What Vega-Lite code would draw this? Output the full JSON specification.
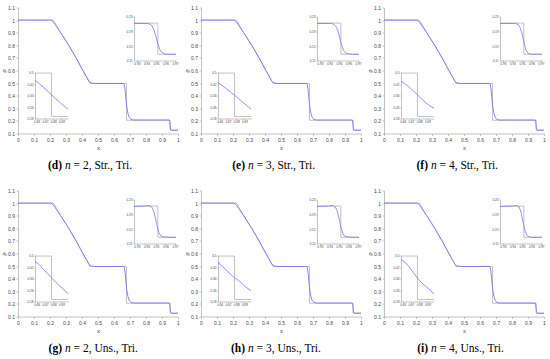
{
  "$schema": "https://vega.github.io/schema/vega-lite/v6.json",
  "padding": {"left": 0, "top": 4.5, "right": 0, "bottom": 0},
  "datasets": {
    "exact": [
      {"k": "m", "x": 0, "y": 1}, {"k": "m", "x": 0.222, "y": 1}, {"k": "m", "x": 0.267, "y": 0.9}, {"k": "m", "x": 0.317, "y": 0.8},
      {"k": "m", "x": 0.363, "y": 0.7}, {"k": "m", "x": 0.407, "y": 0.6}, {"k": "m", "x": 0.45, "y": 0.497}, {"k": "m", "x": 0.678, "y": 0.497},
      {"k": "m", "x": 0.678, "y": 0.205}, {"k": "m", "x": 0.951, "y": 0.205}, {"k": "m", "x": 0.951, "y": 0.126}, {"k": "m", "x": 1, "y": 0.126},
      {"k": "l", "x": 0.658, "y": 0.496}, {"k": "l", "x": 0.678, "y": 0.496}, {"k": "l", "x": 0.678, "y": 0.194}, {"k": "l", "x": 0.698, "y": 0.194},
      {"k": "u", "x": 0.927, "y": 0.212}, {"k": "u", "x": 0.952, "y": 0.212}, {"k": "u", "x": 0.952, "y": 0.127}, {"k": "u", "x": 0.971, "y": 0.127}
    ],
    "mainnum": [
      {"x": 0, "y": 1}, {"x": 0.205, "y": 1}, {"x": 0.215, "y": 0.994}, {"x": 0.225, "y": 0.978}, {"x": 0.24, "y": 0.95},
      {"x": 0.267, "y": 0.9}, {"x": 0.317, "y": 0.8}, {"x": 0.363, "y": 0.7}, {"x": 0.405, "y": 0.6}, {"x": 0.43, "y": 0.545},
      {"x": 0.445, "y": 0.512}, {"x": 0.46, "y": 0.5}, {"x": 0.48, "y": 0.497}, {"x": 0.66, "y": 0.497}, {"x": 0.665, "y": 0.485},
      {"x": 0.67, "y": 0.44}, {"x": 0.675, "y": 0.37}, {"x": 0.68, "y": 0.31}, {"x": 0.687, "y": 0.26}, {"x": 0.695, "y": 0.228},
      {"x": 0.705, "y": 0.213}, {"x": 0.72, "y": 0.207}, {"x": 0.945, "y": 0.207}, {"x": 0.948, "y": 0.195}, {"x": 0.95, "y": 0.17},
      {"x": 0.952, "y": 0.145}, {"x": 0.955, "y": 0.13}, {"x": 0.96, "y": 0.126}, {"x": 1, "y": 0.126}
    ],
    "panels": [
      {"p": "d", "k": "c", "a": "(d)", "b": "n", "c": "= 2, Str., Tri."},
      {"p": "d", "k": "l", "x": 0.658, "y": 0.447}, {"p": "d", "k": "l", "x": 0.663, "y": 0.423},
      {"p": "d", "k": "l", "x": 0.668, "y": 0.398}, {"p": "d", "k": "l", "x": 0.673, "y": 0.372},
      {"p": "d", "k": "l", "x": 0.678, "y": 0.345}, {"p": "d", "k": "l", "x": 0.683, "y": 0.318},
      {"p": "d", "k": "l", "x": 0.688, "y": 0.293}, {"p": "d", "k": "l", "x": 0.693, "y": 0.268},
      {"p": "d", "k": "l", "x": 0.698, "y": 0.245},
      {"p": "d", "k": "u", "x": 0.927, "y": 0.211}, {"p": "d", "k": "u", "x": 0.941, "y": 0.211},
      {"p": "d", "k": "u", "x": 0.944, "y": 0.209}, {"p": "d", "k": "u", "x": 0.946, "y": 0.204},
      {"p": "d", "k": "u", "x": 0.948, "y": 0.193}, {"p": "d", "k": "u", "x": 0.95, "y": 0.175},
      {"p": "d", "k": "u", "x": 0.952, "y": 0.155}, {"p": "d", "k": "u", "x": 0.954, "y": 0.14},
      {"p": "d", "k": "u", "x": 0.956, "y": 0.132}, {"p": "d", "k": "u", "x": 0.959, "y": 0.128},
      {"p": "d", "k": "u", "x": 0.964, "y": 0.127}, {"p": "d", "k": "u", "x": 0.971, "y": 0.127},

      {"p": "e", "k": "c", "a": "(e)", "b": "n", "c": "= 3, Str., Tri."},
      {"p": "e", "k": "l", "x": 0.658, "y": 0.43}, {"p": "e", "k": "l", "x": 0.663, "y": 0.41},
      {"p": "e", "k": "l", "x": 0.668, "y": 0.388}, {"p": "e", "k": "l", "x": 0.673, "y": 0.365},
      {"p": "e", "k": "l", "x": 0.678, "y": 0.342}, {"p": "e", "k": "l", "x": 0.683, "y": 0.318},
      {"p": "e", "k": "l", "x": 0.688, "y": 0.293}, {"p": "e", "k": "l", "x": 0.693, "y": 0.27},
      {"p": "e", "k": "l", "x": 0.698, "y": 0.245},
      {"p": "e", "k": "u", "x": 0.927, "y": 0.211}, {"p": "e", "k": "u", "x": 0.942, "y": 0.211},
      {"p": "e", "k": "u", "x": 0.945, "y": 0.208}, {"p": "e", "k": "u", "x": 0.947, "y": 0.202},
      {"p": "e", "k": "u", "x": 0.949, "y": 0.19}, {"p": "e", "k": "u", "x": 0.951, "y": 0.17},
      {"p": "e", "k": "u", "x": 0.953, "y": 0.15}, {"p": "e", "k": "u", "x": 0.955, "y": 0.137},
      {"p": "e", "k": "u", "x": 0.957, "y": 0.13}, {"p": "e", "k": "u", "x": 0.96, "y": 0.128},
      {"p": "e", "k": "u", "x": 0.965, "y": 0.127}, {"p": "e", "k": "u", "x": 0.971, "y": 0.127},

      {"p": "f", "k": "c", "a": "(f)", "b": "n", "c": "= 4, Str., Tri."},
      {"p": "f", "k": "l", "x": 0.658, "y": 0.44}, {"p": "f", "k": "l", "x": 0.663, "y": 0.42},
      {"p": "f", "k": "l", "x": 0.668, "y": 0.398}, {"p": "f", "k": "l", "x": 0.673, "y": 0.372},
      {"p": "f", "k": "l", "x": 0.678, "y": 0.345}, {"p": "f", "k": "l", "x": 0.683, "y": 0.316},
      {"p": "f", "k": "l", "x": 0.688, "y": 0.29}, {"p": "f", "k": "l", "x": 0.693, "y": 0.268},
      {"p": "f", "k": "l", "x": 0.698, "y": 0.25},
      {"p": "f", "k": "u", "x": 0.927, "y": 0.211}, {"p": "f", "k": "u", "x": 0.943, "y": 0.211},
      {"p": "f", "k": "u", "x": 0.946, "y": 0.208}, {"p": "f", "k": "u", "x": 0.948, "y": 0.2},
      {"p": "f", "k": "u", "x": 0.95, "y": 0.184}, {"p": "f", "k": "u", "x": 0.952, "y": 0.16},
      {"p": "f", "k": "u", "x": 0.954, "y": 0.14}, {"p": "f", "k": "u", "x": 0.956, "y": 0.131},
      {"p": "f", "k": "u", "x": 0.958, "y": 0.128}, {"p": "f", "k": "u", "x": 0.961, "y": 0.127},
      {"p": "f", "k": "u", "x": 0.965, "y": 0.127}, {"p": "f", "k": "u", "x": 0.971, "y": 0.127},

      {"p": "g", "k": "c", "a": "(g)", "b": "n", "c": "= 2, Uns., Tri."},
      {"p": "g", "k": "l", "x": 0.658, "y": 0.46}, {"p": "g", "k": "l", "x": 0.663, "y": 0.435},
      {"p": "g", "k": "l", "x": 0.668, "y": 0.405}, {"p": "g", "k": "l", "x": 0.673, "y": 0.375},
      {"p": "g", "k": "l", "x": 0.678, "y": 0.345}, {"p": "g", "k": "l", "x": 0.683, "y": 0.315},
      {"p": "g", "k": "l", "x": 0.688, "y": 0.287}, {"p": "g", "k": "l", "x": 0.693, "y": 0.262},
      {"p": "g", "k": "l", "x": 0.698, "y": 0.235},
      {"p": "g", "k": "u", "x": 0.927, "y": 0.211}, {"p": "g", "k": "u", "x": 0.938, "y": 0.212},
      {"p": "g", "k": "u", "x": 0.942, "y": 0.214}, {"p": "g", "k": "u", "x": 0.945, "y": 0.211},
      {"p": "g", "k": "u", "x": 0.947, "y": 0.203}, {"p": "g", "k": "u", "x": 0.949, "y": 0.185},
      {"p": "g", "k": "u", "x": 0.951, "y": 0.16}, {"p": "g", "k": "u", "x": 0.953, "y": 0.14},
      {"p": "g", "k": "u", "x": 0.955, "y": 0.131}, {"p": "g", "k": "u", "x": 0.958, "y": 0.128},
      {"p": "g", "k": "u", "x": 0.964, "y": 0.127}, {"p": "g", "k": "u", "x": 0.971, "y": 0.127},

      {"p": "h", "k": "c", "a": "(h)", "b": "n", "c": "= 3, Uns., Tri."},
      {"p": "h", "k": "l", "x": 0.658, "y": 0.455}, {"p": "h", "k": "l", "x": 0.663, "y": 0.425},
      {"p": "h", "k": "l", "x": 0.668, "y": 0.4}, {"p": "h", "k": "l", "x": 0.673, "y": 0.37},
      {"p": "h", "k": "l", "x": 0.678, "y": 0.345}, {"p": "h", "k": "l", "x": 0.683, "y": 0.326},
      {"p": "h", "k": "l", "x": 0.688, "y": 0.3}, {"p": "h", "k": "l", "x": 0.693, "y": 0.275},
      {"p": "h", "k": "l", "x": 0.698, "y": 0.255},
      {"p": "h", "k": "u", "x": 0.927, "y": 0.211}, {"p": "h", "k": "u", "x": 0.939, "y": 0.212},
      {"p": "h", "k": "u", "x": 0.943, "y": 0.214}, {"p": "h", "k": "u", "x": 0.946, "y": 0.21},
      {"p": "h", "k": "u", "x": 0.948, "y": 0.2}, {"p": "h", "k": "u", "x": 0.95, "y": 0.18},
      {"p": "h", "k": "u", "x": 0.952, "y": 0.155}, {"p": "h", "k": "u", "x": 0.954, "y": 0.138},
      {"p": "h", "k": "u", "x": 0.956, "y": 0.13}, {"p": "h", "k": "u", "x": 0.959, "y": 0.128},
      {"p": "h", "k": "u", "x": 0.964, "y": 0.127}, {"p": "h", "k": "u", "x": 0.971, "y": 0.127},

      {"p": "i", "k": "c", "a": "(i)", "b": "n", "c": "= 4, Uns., Tri."},
      {"p": "i", "k": "l", "x": 0.658, "y": 0.472}, {"p": "i", "k": "l", "x": 0.663, "y": 0.452},
      {"p": "i", "k": "l", "x": 0.668, "y": 0.42}, {"p": "i", "k": "l", "x": 0.673, "y": 0.38},
      {"p": "i", "k": "l", "x": 0.678, "y": 0.342}, {"p": "i", "k": "l", "x": 0.683, "y": 0.31},
      {"p": "i", "k": "l", "x": 0.688, "y": 0.285}, {"p": "i", "k": "l", "x": 0.693, "y": 0.262},
      {"p": "i", "k": "l", "x": 0.698, "y": 0.23},
      {"p": "i", "k": "u", "x": 0.927, "y": 0.211}, {"p": "i", "k": "u", "x": 0.94, "y": 0.212},
      {"p": "i", "k": "u", "x": 0.944, "y": 0.214}, {"p": "i", "k": "u", "x": 0.947, "y": 0.21},
      {"p": "i", "k": "u", "x": 0.949, "y": 0.196}, {"p": "i", "k": "u", "x": 0.951, "y": 0.17},
      {"p": "i", "k": "u", "x": 0.953, "y": 0.146}, {"p": "i", "k": "u", "x": 0.955, "y": 0.133},
      {"p": "i", "k": "u", "x": 0.957, "y": 0.129}, {"p": "i", "k": "u", "x": 0.96, "y": 0.127},
      {"p": "i", "k": "u", "x": 0.965, "y": 0.127}, {"p": "i", "k": "u", "x": 0.971, "y": 0.127}
    ]
  },
  "data": {"name": "panels"},
  "facet": {"field": "p", "type": "nominal", "title": null, "header": {"title": null, "labels": false, "labelExpr": "''", "labelPadding": 0, "labelFontSize": 1}},
  "columns": 3,
  "spacing": {"row": 57, "column": 23},
  "bounds": "flush",
  "resolve": {"axis": {"x": "independent", "y": "independent"}},
  "spec": {
    "width": 160,
    "height": 126,
    "resolve": {"scale": {"x": "independent", "y": "independent"}},
    "layer": [
      {
        "layer": [
          {
            "data": {"name": "exact"},
            "transform": [{"filter": "datum.k == 'm'"}],
            "mark": {"type": "line", "color": "#b2b2b2", "strokeWidth": 0.8},
            "encoding": {
              "x": {"field": "x", "type": "quantitative", "scale": {"domain": [0, 1], "nice": false, "zero": false},
                "axis": {"values": [0, 0.1, 0.2, 0.3, 0.4, 0.5, 0.6, 0.7, 0.8, 0.9, 1], "tickCount": 30, "format": "~g", "title": "x", "orient": "bottom"}},
              "y": {"field": "y", "type": "quantitative", "scale": {"domain": [0.1, 1.1], "nice": false, "zero": false},
                "axis": {"values": [0.1, 0.2, 0.3, 0.4, 0.5, 0.6, 0.7, 0.8, 0.9, 1, 1.1], "tickCount": 30, "format": "~g", "title": "ρ", "orient": "left", "titleX": -12}},
              "order": {"value": null}
            }
          },
          {
            "data": {"name": "mainnum"},
            "mark": {"type": "line", "color": "#7676ee", "strokeWidth": 0.9},
            "encoding": {
              "x": {"field": "x", "type": "quantitative"},
              "y": {"field": "y", "type": "quantitative"},
              "order": {"value": null}
            }
          },
          {
            "transform": [{"filter": "datum.k == 'c'"}],
            "mark": {"type": "text", "font": "Liberation Serif", "fontSize": 11.5, "fontWeight": "bold", "align": "right", "baseline": "middle", "color": "#000"},
            "encoding": {
              "x": {"datum": 0.275, "type": "quantitative", "scale": {"domain": [0, 1]}},
              "y": {"datum": -0.16, "type": "quantitative", "scale": {"domain": [0.1, 1.1]}},
              "text": {"field": "a"}
            }
          },
          {
            "transform": [{"filter": "datum.k == 'c'"}],
            "mark": {"type": "text", "font": "Liberation Serif", "fontSize": 11.5, "fontStyle": "italic", "align": "left", "baseline": "middle", "color": "#000"},
            "encoding": {
              "x": {"datum": 0.2935, "type": "quantitative", "scale": {"domain": [0, 1]}},
              "y": {"datum": -0.16, "type": "quantitative", "scale": {"domain": [0.1, 1.1]}},
              "text": {"field": "b"}
            }
          },
          {
            "transform": [{"filter": "datum.k == 'c'"}],
            "mark": {"type": "text", "font": "Liberation Serif", "fontSize": 11.5, "align": "left", "baseline": "middle", "color": "#000"},
            "encoding": {
              "x": {"datum": 0.3475, "type": "quantitative", "scale": {"domain": [0, 1]}},
              "y": {"datum": -0.16, "type": "quantitative", "scale": {"domain": [0.1, 1.1]}},
              "text": {"field": "c"}
            }
          }
        ]
      },
      {
        "layer": [
          {
            "data": {"name": "exact"},
            "transform": [{"filter": "datum.k == 'l'"}],
            "mark": {"type": "line", "color": "#b2b2b2", "strokeWidth": 0.8},
            "encoding": {
              "x": {"field": "x", "type": "quantitative", "scale": {"domain": [0.658, 0.698], "nice": false, "zero": false, "range": [17, 50]},
                "axis": {"values": [0.66, 0.67, 0.68, 0.69], "tickCount": 30, "format": "~g", "title": null, "orient": "bottom", "offset": -15, "labelFontSize": 3.1, "tickSize": 1.2, "labelPadding": 0.8}},
              "y": {"field": "y", "type": "quantitative", "scale": {"domain": [0.18, 0.5], "nice": false, "zero": false, "range": [111, 65]},
                "axis": {"values": [0.18, 0.26, 0.34, 0.42, 0.5], "tickCount": 30, "format": "~g", "title": null, "orient": "left", "offset": -17, "labelFontSize": 3.1, "tickSize": 1.2, "labelPadding": 0.8}},
              "order": {"value": null}
            }
          },
          {
            "transform": [{"filter": "datum.k == 'l'"}],
            "mark": {"type": "line", "color": "#7676ee", "strokeWidth": 0.8},
            "encoding": {
              "x": {"field": "x", "type": "quantitative"},
              "y": {"field": "y", "type": "quantitative"},
              "order": {"value": null}
            }
          }
        ]
      },
      {
        "layer": [
          {
            "data": {"name": "exact"},
            "transform": [{"filter": "datum.k == 'u'"}],
            "mark": {"type": "line", "color": "#b2b2b2", "strokeWidth": 0.8},
            "encoding": {
              "x": {"field": "x", "type": "quantitative", "scale": {"domain": [0.927, 0.971], "nice": false, "zero": false, "range": [116, 158]},
                "axis": {"values": [0.93, 0.94, 0.95, 0.96, 0.97], "tickCount": 30, "format": "~g", "title": null, "orient": "bottom", "offset": -73, "labelFontSize": 3.1, "tickSize": 1.2, "labelPadding": 0.8}},
              "y": {"field": "y", "type": "quantitative", "scale": {"domain": [0.11, 0.23], "nice": false, "zero": false, "range": [53, 9]},
                "axis": {"values": [0.11, 0.15, 0.19, 0.23], "tickCount": 30, "format": "~g", "title": null, "orient": "left", "offset": -116, "labelFontSize": 3.1, "tickSize": 1.2, "labelPadding": 0.8}},
              "order": {"value": null}
            }
          },
          {
            "transform": [{"filter": "datum.k == 'u'"}],
            "mark": {"type": "line", "color": "#7676ee", "strokeWidth": 0.8},
            "encoding": {
              "x": {"field": "x", "type": "quantitative"},
              "y": {"field": "y", "type": "quantitative"},
              "order": {"value": null}
            }
          }
        ]
      }
    ]
  },
  "config": {
    "view": {"stroke": null},
    "header": {"labels": false, "title": null},
    "axis": {
      "grid": false, "domainColor": "#9a9a9a", "tickColor": "#9a9a9a", "domainWidth": 0.6, "tickWidth": 0.6,
      "labelColor": "#444", "labelFont": "Liberation Sans", "labelFontSize": 5, "tickSize": 2, "labelPadding": 1.5,
      "labelOverlap": false, "labelFlush": false, "labelBound": false,
      "titleFont": "Liberation Sans", "titleFontSize": 6, "titleFontWeight": "normal", "titleColor": "#444", "titlePadding": 2
    }
  }
}
